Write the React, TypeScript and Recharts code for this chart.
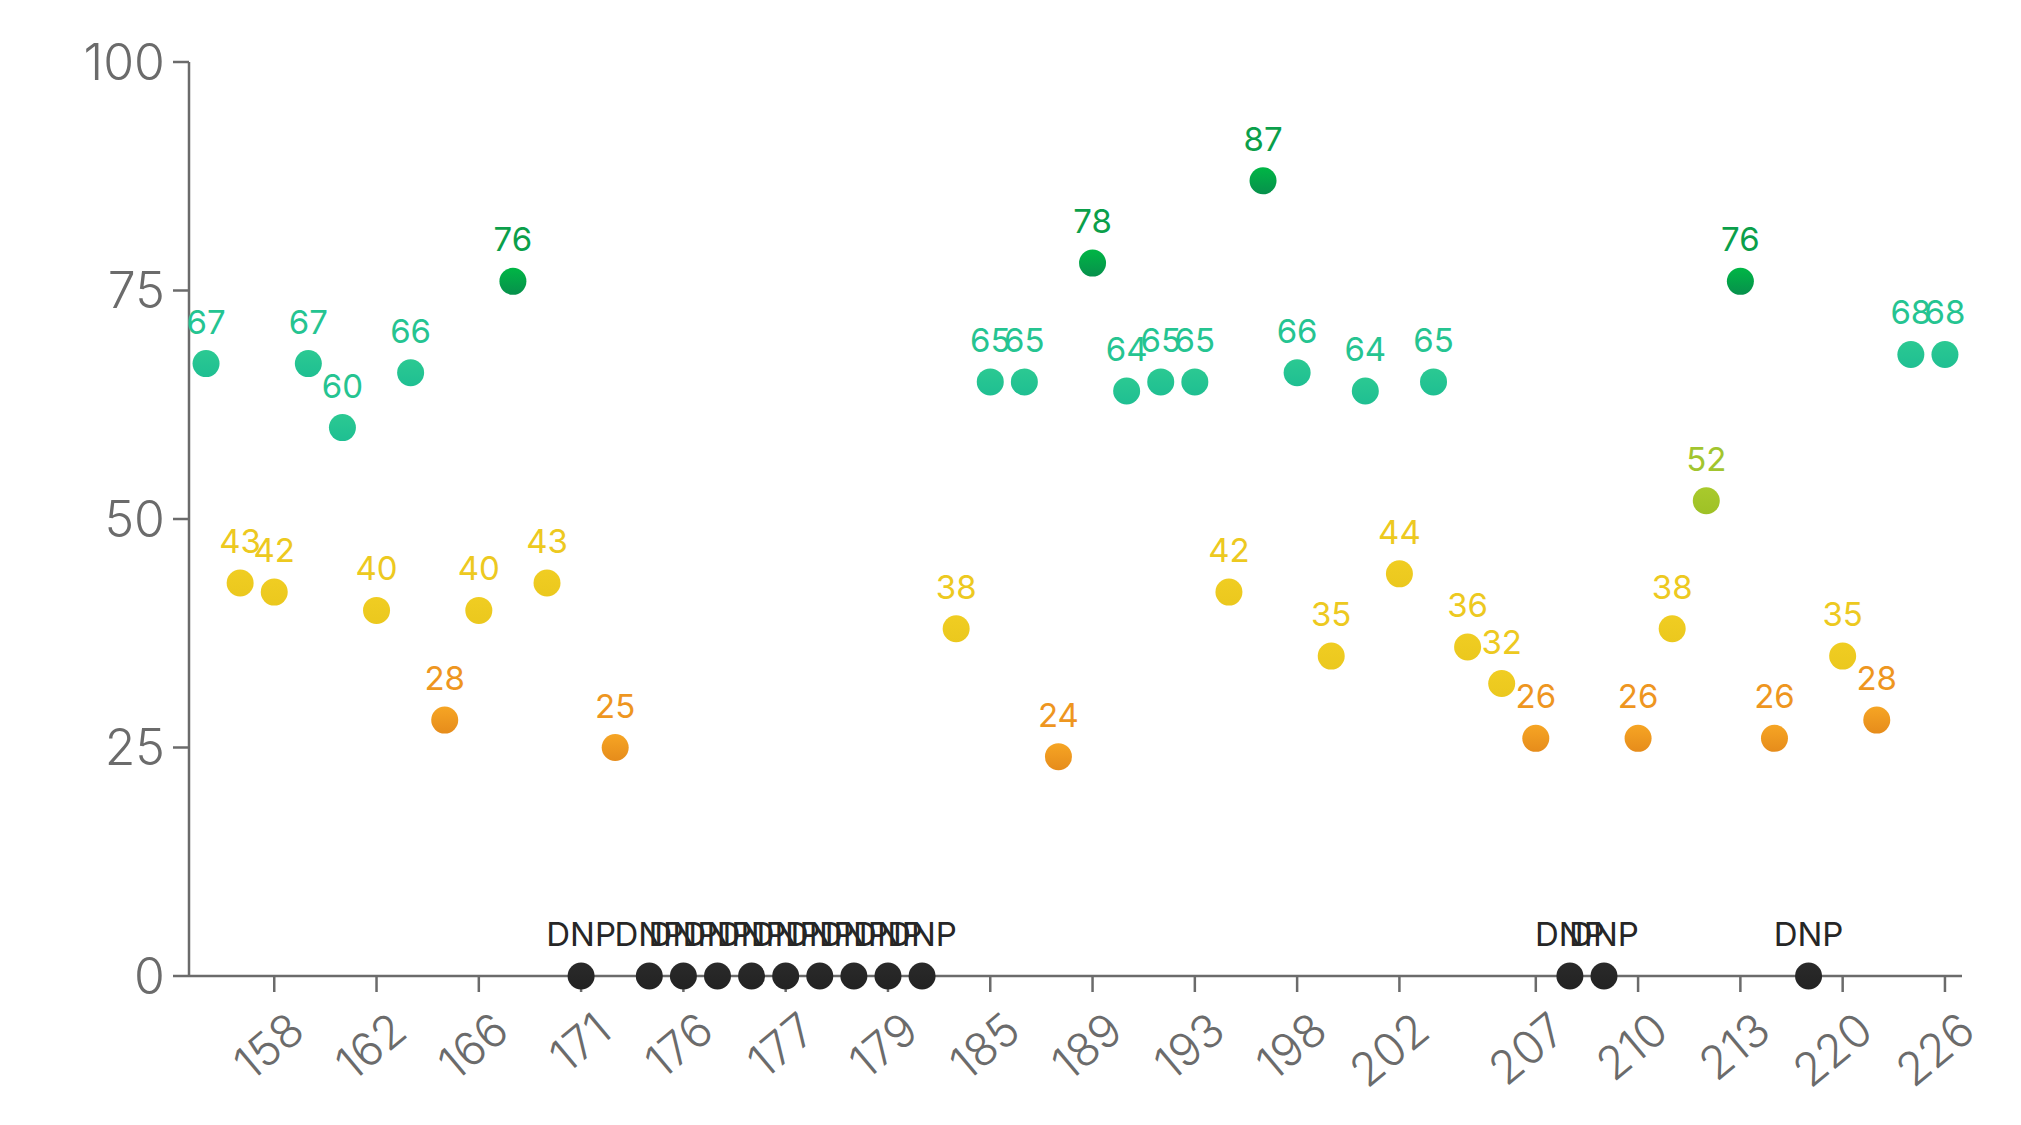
import React from 'react';
import { ScatterChart, Scatter, XAxis, YAxis } from 'recharts';

// game number for every appearance (only some are shown as ticks)
const games = [
  155, 157, 158, 160, 161, 162, 164, 165, 166, 168, 170, 171, 173,
  174, 176, 176, 176, 177, 178, 178, 179, 181, 183, 185, 186, 188,
  189, 190, 192, 193, 195, 197, 198, 199, 201, 202, 204, 205, 206,
  207, 208, 209, 210, 211, 212, 213, 216, 218, 220, 222, 224, 226,
];

// null = did not play
const scores: (number | null)[] = [
  67, 43, 42, 67, 60, 40, 66, 28, 40, 76, 43, null, 25,
  null, null, null, null, null, null, null, null, null, 38, 65, 65, 24,
  78, 64, 65, 65, 42, 87, 66, 35, 64, 44, 65, 36, 32,
  26, null, null, 26, 38, 52, 76, 26, null, 35, 28, 68, 68,
];

const xTickIdx = [2, 5, 8, 11, 14, 17, 20, 23, 26, 29, 32, 35, 39, 42, 45, 48, 51];
const yTicks = [0, 25, 50, 75, 100];

const data = scores.map((s, i) => ({ idx: i, game: games[i], score: s, y: s ?? 0 }));

const FONT = 'Inter, "Liberation Sans", sans-serif';
const AXIS = '#6b6b6b';

const band = (s: number | null) => {
  if (s === null) return { id: 'dnp', text: '#262626' };
  if (s >= 75) return { id: 'great', text: '#0b9f4a' };
  if (s >= 60) return { id: 'good', text: '#25c491' };
  if (s >= 50) return { id: 'ok', text: '#a2c52e' };
  if (s >= 30) return { id: 'meh', text: '#edc920' };
  return { id: 'bad', text: '#ee961f' };
};

const Dot = (props: any) => {
  const { cx, cy, payload } = props;
  const b = band(payload.score);
  return (
    <g>
      <circle cx={cx} cy={cy} r={13.5} fill={`url(#dot-${b.id})`} />
      <text
        x={cx}
        y={cy - 30}
        textAnchor="middle"
        fill={b.text}
        fontSize={33}
        fontFamily={FONT}
      >
        {payload.score ?? 'DNP'}
      </text>
    </g>
  );
};

export default function App() {
  return (
    <div style={{ position: 'absolute', left: 0, top: 0, background: '#fff' }}>
      <ScatterChart width={2021} height={1125} margin={{ top: 62, right: 59, bottom: 0, left: 0 }}>
        <defs>
          <linearGradient id="dot-great" x1="0" y1="0" x2="0" y2="1">
            <stop offset="0%" stopColor="#00b645" />
            <stop offset="100%" stopColor="#07904c" />
          </linearGradient>
          <linearGradient id="dot-good" x1="0" y1="0" x2="0" y2="1">
            <stop offset="0%" stopColor="#2bc992" />
            <stop offset="100%" stopColor="#1fbf92" />
          </linearGradient>
          <linearGradient id="dot-ok" x1="0" y1="0" x2="0" y2="1">
            <stop offset="0%" stopColor="#a9ca2c" />
            <stop offset="100%" stopColor="#9ec126" />
          </linearGradient>
          <linearGradient id="dot-meh" x1="0" y1="0" x2="0" y2="1">
            <stop offset="0%" stopColor="#f0cd22" />
            <stop offset="100%" stopColor="#ebc81e" />
          </linearGradient>
          <linearGradient id="dot-bad" x1="0" y1="0" x2="0" y2="1">
            <stop offset="0%" stopColor="#f6a524" />
            <stop offset="100%" stopColor="#e68c1b" />
          </linearGradient>
          <linearGradient id="dot-dnp" x1="0" y1="0" x2="0" y2="1">
            <stop offset="0%" stopColor="#2a2a2a" />
            <stop offset="100%" stopColor="#222" />
          </linearGradient>
        </defs>
        <XAxis
          type="number"
          dataKey="idx"
          domain={[-0.5, 51.5]}
          ticks={xTickIdx}
          interval={0}
          tickFormatter={(v: number) => String(games[v])}
          height={149}
          tickSize={16}
          tickMargin={18}
          axisLine={{ stroke: AXIS, strokeWidth: 2.5 }}
          tickLine={{ stroke: AXIS, strokeWidth: 2.5 }}
          tick={{ angle: -40, textAnchor: 'end', dx: 12, fill: AXIS, fontSize: 46, fontFamily: FONT, fontWeight: 300 }}
        />
        <YAxis
          type="number"
          dataKey="y"
          domain={[0, 100]}
          ticks={yTicks}
          interval={0}
          width={189}
          tickSize={16}
          tickMargin={8}
          axisLine={{ stroke: AXIS, strokeWidth: 2.5 }}
          tickLine={{ stroke: AXIS, strokeWidth: 2.5 }}
          tick={{ fill: AXIS, fontSize: 50, fontFamily: FONT, fontWeight: 300 }}
        />
        <Scatter data={data} shape={Dot} isAnimationActive={false} />
      </ScatterChart>
    </div>
  );
}
